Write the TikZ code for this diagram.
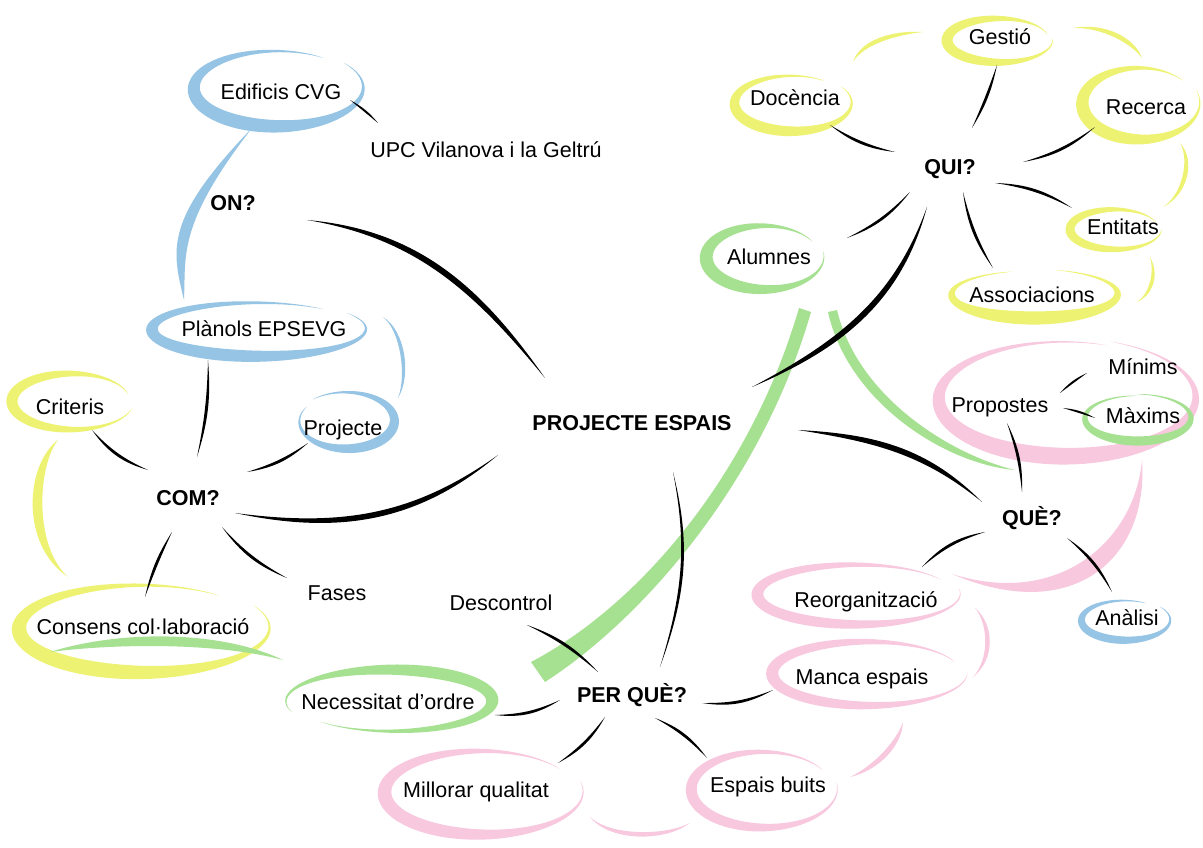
\documentclass[tikz,border=0pt]{standalone}
\usepackage{fontspec}
\setmainfont{Liberation Sans}
\usetikzlibrary{calc}
\definecolor{cblue}{RGB}{150,196,228}
\definecolor{cyel}{RGB}{238,242,115}
\definecolor{cgrn}{RGB}{166,224,145}
\definecolor{cpink}{RGB}{248,200,222}
\pgfdeclarelayer{bg}
\pgfsetlayers{bg,main}
% brush ring: cx, cy, rx, ry, start angle, end angle, peak width, colour
\newcommand\ring[8]{%
  \fill[#8] plot[domain=0:1,samples=72,variable=\s]
   ({#1+(#3*ringrf(\s)+ringhw(\s,#7))*cos(#5+\s*((#6)-(#5)))},{#2+(#4*ringrf(\s)+ringhw(\s,#7))*sin(#5+\s*((#6)-(#5)))})
   -- plot[domain=0:1,samples=72,variable=\s]
   ({#1+(#3*ringrf(1-\s)-ringhw(1-\s,#7))*cos(#5+(1-\s)*((#6)-(#5)))},{#2+(#4*ringrf(1-\s)-ringhw(1-\s,#7))*sin(#5+(1-\s)*((#6)-(#5)))})
   -- cycle;}
% tapered brush stroke
\newcommand\brush[6]{\fill[#6] #1 .. controls #2 and #3 .. #4 .. controls ($#3+#5$) and ($#2+#5$) .. #1 -- cycle;}
% tapered connectors between two node-relative points (lens shapes)
\newcommand\cL[4]{\fill #1 to[bend left=#3] #2 to[bend right=#4] #1 -- cycle;}
\newcommand\cR[4]{\fill #1 to[bend right=#3] #2 to[bend left=#4] #1 -- cycle;}
\begin{document}
\begin{tikzpicture}[x=1pt,y=1pt,
  declare function={ringhw(\t,\w)=0.5*(\w*(sin(180*\t))^2+2.2*sqrt(abs(sin(180*\t))));
                    ringrf(\t)=0.965+0.07*\t;},
  txt/.style={font=\fontsize{21.5}{26}\selectfont, inner sep=0pt, text height=15.4pt, text depth=0pt},
  btxt/.style={txt, font=\fontsize{21.5}{26}\selectfont\bfseries}]
\useasboundingbox (0,0) rectangle (1203,-848);

% ---------- texts ----------
\node[txt]  (edif)  at (281,-92)   {Edificis CVG};
\node[txt]  (upc)   at (486,-150)  {UPC Vilanova i la Geltrú};
\node[btxt] (onq)   at (233,-203)  {ON?};
\node[txt]  (plan)  at (264,-329)  {Plànols EPSEVG};
\node[txt]  (proj)  at (343,-428)  {Projecte};
\node[txt]  (crit)  at (70,-407)   {Criteris};
\node[btxt] (com)   at (188,-498)  {COM?};
\node[txt]  (fases) at (337,-593)  {Fases};
\node[txt]  (cons)  at (143,-627)  {Consens col·laboració};
\node[btxt] (pe)    at (632,-423)  {PROJECTE ESPAIS};
\node[txt]  (desc)  at (501,-603)  {Descontrol};
\node[btxt] (pq)    at (632,-695)  {PER QUÈ?};
\node[txt]  (nec)   at (388,-702)  {Necessitat d’ordre};
\node[txt]  (mill)  at (476,-790)  {Millorar qualitat};
\node[txt]  (eb)    at (768,-785)  {Espais buits};
\node[txt]  (manca) at (862,-677)  {Manca espais};
\node[txt]  (reorg) at (866,-600)  {Reorganització};
\node[btxt] (que)   at (1032,-518) {QUÈ?};
\node[txt]  (anal)  at (1127,-618) {Anàlisi};
\node[txt]  (prop)  at (1000,-405) {Propostes};
\node[txt]  (mini)  at (1143,-367) {Mínims};
\node[txt]  (maxi)  at (1143,-416) {Màxims};
\node[btxt] (qui)   at (950,-167)  {QUI?};
\node[txt]  (doc)   at (795,-98)   {Docència};
\node[txt]  (ges)   at (1000,-37)  {Gestió};
\node[txt]  (rec)   at (1146,-107) {Recerca};
\node[txt]  (ent)   at (1123,-227) {Entitats};
\node[txt]  (ass)   at (1032,-295) {Associacions};
\node[txt]  (alu)   at (769,-257)  {Alumnes};

% ---------- coloured brush rings and strokes ----------
\begin{pgfonlayer}{bg}
\fill[white] (0,0) rectangle (1203,-848);
\ring{277}{-88}{84}{38}{55}{400}{12}{cblue}
\ring{257}{-329}{106}{27}{50}{395}{11}{cblue}
\ring{346}{-421}{48}{28}{148}{492}{8}{cblue}
\ring{72}{-401}{60}{28}{15}{345}{9}{cyel}
\ring{142}{-628}{124}{44}{50}{390}{14}{cyel}
\ring{391}{-701}{102}{31}{225}{560}{11}{cgrn}
\ring{482}{-792}{98}{42}{35}{375}{12}{cpink}
\ring{763}{-789}{72}{38}{30}{370}{9}{cpink}
\ring{868}{-673}{96}{32}{20}{360}{10}{cpink}
\ring{857}{-594}{100}{30}{30}{370}{10}{cpink}
\ring{1065}{-398}{128}{58}{70}{430}{15}{cpink}
\ring{1137}{-418}{53}{23}{90}{450}{7}{cgrn}
\ring{1125}{-620}{44}{20}{60}{400}{6}{cblue}
\ring{764}{-257}{58}{32}{30}{370}{11}{cgrn}
\ring{1033}{-294}{83}{24}{105}{435}{11}{cyel}
\ring{1115}{-229}{45}{20}{20}{360}{7}{cyel}
\ring{1140}{-103}{58}{36}{40}{380}{11}{cyel}
\ring{999}{-40}{52}{22}{15}{365}{9}{cyel}
\ring{792}{-103}{58}{28}{55}{395}{9}{cyel}

\brush{(252,-128)}{(163,-220)}{(172,-250)}{(184,-300)}{(14,-5)}{cblue}
\brush{(383,-317)}{(405,-330)}{(412,-375)}{(398,-398)}{(-5,0)}{cblue}
\brush{(58,-440)}{(25,-465)}{(20,-545)}{(68,-577)}{(13,0)}{cyel}
\brush{(50,-652)}{(120,-630)}{(220,-630)}{(283,-660)}{(0,-13)}{cgrn}
\fill[cgrn] (531,-662) .. controls (638,-606) and (750,-476) .. (799,-308)
   -- (811,-312) .. controls (762,-482) and (644,-618) .. (545,-682) -- cycle;
\fill[cgrn] (828,-312) .. controls (848,-402) and (945,-464) .. (1015,-470)
   .. controls (952,-455) and (858,-398) .. (837,-310) -- cycle;
\brush{(1142,-460)}{(1135,-540)}{(1060,-608)}{(952,-574)}{(14,-18)}{cpink}
\brush{(975,-608)}{(995,-625)}{(995,-660)}{(973,-677)}{(-6,0)}{cpink}
\brush{(903,-722)}{(902,-745)}{(880,-770)}{(850,-777)}{(-5,5)}{cpink}
\brush{(590,-817)}{(610,-842)}{(665,-842)}{(690,-823)}{(0,6)}{cpink}
\brush{(853,-62)}{(860,-40)}{(892,-30)}{(923,-32)}{(3,-5)}{cyel}
\brush{(1073,-28)}{(1105,-22)}{(1135,-38)}{(1142,-58)}{(-4,-5)}{cyel}
\brush{(1180,-143)}{(1196,-160)}{(1188,-195)}{(1163,-207)}{(-6,0)}{cyel}
\brush{(1150,-257)}{(1160,-275)}{(1153,-295)}{(1137,-302)}{(-5,0)}{cyel}
\end{pgfonlayer}

% ---------- main connectors (tapered) ----------
\fill ($(onq)+(74,-17)$) to[out=-5,in=125] ($(pe)+(-87,45)$)
      to[out=129.5,in=-9.5] ($(onq)+(74,-17)$) -- cycle;
\fill ($(pe)+(120,36)$) to[out=28,in=-110] ($(qui)+(-23,-40)$)
      to[out=-105,in=23] ($(pe)+(120,36)$) -- cycle;
\fill ($(pe)+(166,-7)$) to[out=-3,in=135] ($(que)+(-50,16)$)
      to[out=141,in=-9] ($(pe)+(166,-7)$) -- cycle;
\fill ($(pe)+(-134,-32)$) to[out=220,in=-12] ($(com)+(47,-15)$)
      to[out=-7.5,in=215.5] ($(pe)+(-134,-32)$) -- cycle;
\fill ($(pe)+(41,-49)$) to[out=-76,in=70] ($(pq)+(28,28)$)
      to[out=73,in=-79] ($(pe)+(41,-49)$) -- cycle;

% ---------- sub connectors (tapered) ----------
\cL{($(edif)+(69,-8)$)}{($(upc)+(-108,27)$)}{11}{0}
\cL{($(plan)+(-56,-31)$)}{($(com)+(9,41)$)}{11}{5}
\cR{($(crit)+(22,-23)$)}{($(com)+(-40,28)$)}{19.5}{11}
\cL{($(proj)+(-35,-15)$)}{($(com)+(59,26)$)}{16.5}{8}
\cR{($(com)+(-16,-34)$)}{($(cons)+(2,30)$)}{10}{2}
\cR{($(com)+(34,-29)$)}{($(fases)+(-50,15)$)}{16}{9}
\cL{($(desc)+(26,-22)$)}{($(pq)+(-34,23)$)}{14}{7}
\cL{($(pq)+(-72,-5)$)}{($(nec)+(107,-13)$)}{19.5}{11}
\cL{($(pq)+(-27,-22)$)}{($(mill)+(82,27)$)}{16.5}{8}
\cL{($(pq)+(23,-23)$)}{($(eb)+(-61,27)$)}{16.5}{8}
\cR{($(pq)+(70,-8)$)}{($(manca)+(-89,-13)$)}{19}{11}
\cR{($(que)+(-47,-14)$)}{($(reorg)+(56,33)$)}{19}{11}
\cL{($(que)+(35,-20)$)}{($(anal)+(-15,26)$)}{16}{8}
\cL{($(prop)+(7,-18)$)}{($(que)+(-10,26)$)}{14}{6}
\cL{($(prop)+(60,12)$)}{($(mini)+(-56,-6)$)}{12}{0}
\cL{($(prop)+(63,-3)$)}{($(maxi)+(-48,-2)$)}{12}{0}
\cL{($(qui)+(-55,15)$)}{($(doc)+(35,-27)$)}{16}{8}
\cR{($(qui)+(22,39)$)}{($(ges)+(-3,-28)$)}{10}{2}
\cR{($(qui)+(73,5)$)}{($(rec)+(-51,-20)$)}{16}{9}
\cL{($(qui)+(45,-16)$)}{($(ent)+(-51,19)$)}{16}{9}
\cR{($(qui)+(13,-25)$)}{($(ass)+(-39,27)$)}{14}{7}
\cL{($(qui)+(-40,-25)$)}{($(alu)+(78,19)$)}{16}{9}
\end{tikzpicture}
\end{document}
